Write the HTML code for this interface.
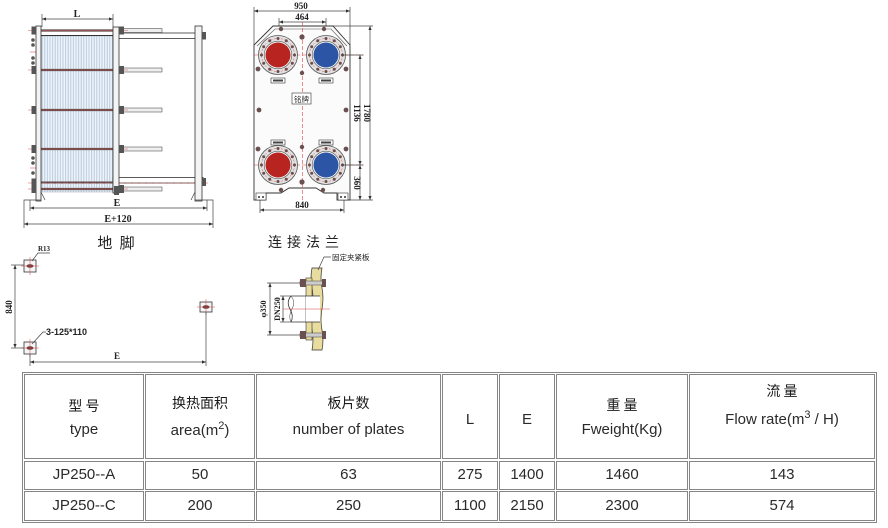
<!DOCTYPE html>
<html><head><meta charset="utf-8">
<style>
html,body{margin:0;padding:0;background:#fff;}
body{width:888px;height:528px;position:relative;overflow:hidden;font-family:"Liberation Sans","Noto Sans CJK SC",sans-serif;}
.b{position:absolute;border:1px solid #858585;box-sizing:border-box;}
.t{position:absolute;text-align:center;line-height:18px;font-size:15px;color:#2a2a2a;white-space:nowrap;}
.c{font-family:"Noto Sans CJK SC","WenQuanYi Zen Hei",sans-serif;font-size:14px;color:#1a1a1a;}
.s{font-size:11px;vertical-align:6px;line-height:0;}
</style></head><body>
<svg width="888" height="528" style="position:absolute;left:0;top:0" xmlns="http://www.w3.org/2000/svg">
<defs>
<marker id="a" viewBox="0 0 10 10" refX="10" refY="5" markerUnits="userSpaceOnUse" markerWidth="6" markerHeight="4" orient="auto-start-reverse"><path d="M0,1 L10,5 L0,9 z" fill="#333"/></marker>
<pattern id="pk" width="2.6" height="10" patternUnits="userSpaceOnUse"><rect width="2.6" height="10" fill="#eef3f9"/><line x1="0.6" y1="0" x2="0.6" y2="10" stroke="#b3c7dc" stroke-width="0.9"/></pattern>
<g id="fl">
<circle r="19.5" fill="#e2e2e2" stroke="#555" stroke-width=".8"/>
<circle r="16.5" fill="none" stroke="#d44" stroke-width=".5" stroke-dasharray="2 1.5"/>
<circle cx="16.5" cy="0" r="1.5" fill="#6b4b4b"/><circle cx="14.3" cy="8.25" r="1.5" fill="#6b4b4b"/><circle cx="8.25" cy="14.3" r="1.5" fill="#6b4b4b"/><circle cx="0" cy="16.5" r="1.5" fill="#6b4b4b"/><circle cx="-8.25" cy="14.3" r="1.5" fill="#6b4b4b"/><circle cx="-14.3" cy="8.25" r="1.5" fill="#6b4b4b"/><circle cx="-16.5" cy="0" r="1.5" fill="#6b4b4b"/><circle cx="-14.3" cy="-8.25" r="1.5" fill="#6b4b4b"/><circle cx="-8.25" cy="-14.3" r="1.5" fill="#6b4b4b"/><circle cx="0" cy="-16.5" r="1.5" fill="#6b4b4b"/><circle cx="8.25" cy="-14.3" r="1.5" fill="#6b4b4b"/><circle cx="14.3" cy="-8.25" r="1.5" fill="#6b4b4b"/>
<circle r="13.8" fill="#f4f4f4" stroke="#555" stroke-width=".6"/>
</g>
</defs>

<!-- ===== LEFT: frame side view ===== -->
<g stroke="#444" stroke-width=".7" fill="none">
<line x1="42" y1="14" x2="42" y2="27"/><line x1="113" y1="14" x2="113" y2="27"/>
<line x1="42" y1="19" x2="113" y2="19" marker-start="url(#a)" marker-end="url(#a)"/>
</g>
<text x="77" y="17" font-family="Liberation Serif" font-weight="bold" font-size="10" text-anchor="middle" fill="#222">L</text>

<rect x="41" y="36" width="72" height="156" fill="url(#pk)" stroke="#9ab" stroke-width=".5"/>
<!-- top guide bar -->
<line x1="41" y1="35.5" x2="113" y2="35.5" stroke="#333" stroke-width="1"/>
<rect x="113" y="33" width="90" height="5.5" fill="#fff" stroke="#333" stroke-width=".8"/>
<!-- lower guide bar -->
<rect x="113" y="177.5" width="90" height="5.5" fill="#fff" stroke="#333" stroke-width=".8"/>
<!-- bolts -->
<g>
<line x1="34" y1="30.5" x2="113" y2="30.5" stroke="#5a4a4a" stroke-width="2.2"/>
<rect x="119" y="28.5" width="43" height="4" fill="#eee" stroke="#555" stroke-width=".6"/>
<line x1="34" y1="70" x2="113" y2="70" stroke="#5a4a4a" stroke-width="2.2"/>
<rect x="119" y="68" width="43" height="4" fill="#eee" stroke="#555" stroke-width=".6"/>
<line x1="34" y1="110" x2="113" y2="110" stroke="#5a4a4a" stroke-width="2.2"/>
<rect x="119" y="108" width="43" height="4" fill="#eee" stroke="#555" stroke-width=".6"/>
<line x1="34" y1="149" x2="113" y2="149" stroke="#5a4a4a" stroke-width="2.2"/>
<rect x="119" y="147" width="43" height="4" fill="#eee" stroke="#555" stroke-width=".6"/>
<line x1="34" y1="182.5" x2="113" y2="182.5" stroke="#5a4a4a" stroke-width="2"/>
<line x1="34" y1="189" x2="113" y2="189" stroke="#5a4a4a" stroke-width="2.2"/>
<rect x="119" y="187" width="43" height="4" fill="#eee" stroke="#555" stroke-width=".6"/>
</g>
<g stroke="#d55" stroke-width=".6">
<line x1="28" y1="30.5" x2="128" y2="30.5"/><line x1="28" y1="70" x2="128" y2="70"/><line x1="28" y1="110" x2="128" y2="110"/><line x1="28" y1="149" x2="128" y2="149"/><line x1="28" y1="189" x2="128" y2="189"/>
<line x1="28" y1="183" x2="208" y2="183" stroke-dasharray="5 2"/>
<line x1="30" y1="52" x2="40" y2="52"/><line x1="30" y1="168" x2="40" y2="168"/>
</g>
<!-- plates -->
<rect x="36" y="26" width="5" height="175" fill="#f4f4f4" stroke="#333" stroke-width=".8"/>
<rect x="113" y="27" width="6" height="166" fill="#f4f4f4" stroke="#333" stroke-width=".8"/>
<rect x="195" y="26" width="7" height="175" fill="#f4f4f4" stroke="#333" stroke-width=".8"/>
<!-- nuts -->
<g fill="#555">
<rect x="31.5" y="26.5" width="4.5" height="8"/><rect x="31.5" y="66" width="4.5" height="8"/><rect x="31.5" y="106" width="4.5" height="8"/><rect x="31.5" y="145" width="4.5" height="8"/><rect x="31.5" y="178.5" width="4.5" height="8"/><rect x="31.5" y="185" width="4.5" height="8"/>
<rect x="119" y="26.5" width="5" height="8"/><rect x="119" y="66" width="5" height="8"/><rect x="119" y="106" width="5" height="8"/><rect x="119" y="145" width="5" height="8"/><rect x="119" y="185" width="5" height="8"/><rect x="114" y="186" width="5" height="9"/>
<rect x="202" y="32" width="4" height="7.5"/><rect x="202" y="178" width="4" height="8"/>
<circle cx="33" cy="40" r="1.8"/><circle cx="33" cy="45" r="1.8"/><circle cx="33" cy="58" r="1.8"/><circle cx="33" cy="63" r="1.8"/>
<circle cx="33" cy="158" r="1.8"/><circle cx="33" cy="163" r="1.8"/><circle cx="33" cy="173" r="1.8"/>
</g>
<!-- feet & dims -->
<g stroke="#444" stroke-width=".7" fill="none">
<path d="M24,228 V200 H41"/><path d="M213,228 V200 H195"/>
<path d="M41,192 L45,200"/><path d="M195,192 L191,200"/>
<line x1="30" y1="200" x2="30" y2="211"/><line x1="207" y1="200" x2="207" y2="211"/>
<line x1="30" y1="208" x2="207" y2="208" marker-start="url(#a)" marker-end="url(#a)"/>
<line x1="24" y1="224" x2="213" y2="224" marker-start="url(#a)" marker-end="url(#a)"/>
</g>
<g font-family="Liberation Serif" font-weight="bold" font-size="10" fill="#222" text-anchor="middle">
<text x="117" y="206">E</text>
<text x="118" y="222">E+120</text>
</g>
<text x="117" y="248" font-family="Noto Sans CJK SC" font-size="15" text-anchor="middle" fill="#222" letter-spacing="2">地 脚</text>

<!-- ===== MIDDLE: plate front view ===== -->
<g stroke="#444" stroke-width=".7" fill="none">
<line x1="254" y1="7" x2="254" y2="45"/><line x1="350" y1="7" x2="350" y2="45"/>
<line x1="254" y1="11" x2="350" y2="11" marker-start="url(#a)" marker-end="url(#a)"/>
<line x1="279" y1="18" x2="279" y2="36"/><line x1="326" y1="18" x2="326" y2="36"/>
<line x1="279" y1="22" x2="326" y2="22" marker-start="url(#a)" marker-end="url(#a)"/>
</g>
<g font-family="Liberation Serif" font-weight="bold" font-size="9" fill="#222" text-anchor="middle">
<text x="301" y="9">950</text>
<text x="302" y="20">464</text>
</g>
<path d="M254,45 L273,26 L333,26 L350,45 L350,200 L337,200 L337,193 L324,193 L316,188 L289,188 L281,193 L266,193 L266,200 L254,200 Z" fill="#fbfbfb" stroke="#333" stroke-width=".9"/>
<path d="M257,46 L275,29 L331,29 L347,46" fill="none" stroke="#555" stroke-width=".6"/>
<rect x="256" y="193" width="10" height="7" fill="#fff" stroke="#333" stroke-width=".6"/>
<rect x="338" y="193" width="10" height="7" fill="#fff" stroke="#333" stroke-width=".6"/>
<g fill="#333"><circle cx="259" cy="197" r="1"/><circle cx="263" cy="197" r="1"/><circle cx="341" cy="197" r="1"/><circle cx="345" cy="197" r="1"/></g>
<!-- centerlines -->
<g stroke="#d44" stroke-width=".6" stroke-dasharray="4 2" fill="none">
<line x1="302.5" y1="22" x2="302.5" y2="205"/>
<line x1="254" y1="55" x2="364" y2="55"/>
<line x1="254" y1="165" x2="364" y2="165"/>
</g>
<!-- plate bolts -->
<g fill="#6a5050">
<circle cx="302" cy="37" r="2.6"/><circle cx="281" cy="29" r="2.2"/><circle cx="324" cy="29" r="2.2"/>
<circle cx="258" cy="69" r="2.4"/><circle cx="346" cy="69" r="2.4"/>
<circle cx="259" cy="110" r="2.4"/><circle cx="346" cy="110" r="2.4"/>
<circle cx="258" cy="149" r="2.4"/><circle cx="346" cy="149" r="2.4"/>
<circle cx="302" cy="182" r="2.6"/><circle cx="281" cy="190" r="2.2"/><circle cx="323" cy="190" r="2.2"/>
<circle cx="302" cy="73" r="2.2"/><circle cx="302" cy="147" r="2.2"/>
</g>
<!-- ports -->
<use href="#fl" x="278" y="55"/><use href="#fl" x="326" y="55"/>
<use href="#fl" x="278" y="165"/><use href="#fl" x="326" y="165"/>
<circle cx="278" cy="55" r="12.5" fill="#b8241f"/>
<circle cx="326" cy="55" r="12.5" fill="#2c55a6"/>
<circle cx="278" cy="165" r="12.5" fill="#b8241f"/>
<circle cx="326" cy="165" r="12.5" fill="#2c55a6"/>
<g fill="#fff" stroke="#333" stroke-width=".6">
<rect x="271" y="78" width="14" height="5"/><rect x="319" y="78" width="14" height="5"/>
<rect x="271" y="140" width="14" height="5"/><rect x="319" y="140" width="14" height="5"/>
<rect x="292" y="93" width="19" height="11"/>
</g>
<g fill="#444"><rect x="273" y="79.5" width="10" height="2"/><rect x="321" y="79.5" width="10" height="2"/><rect x="273" y="141.5" width="10" height="2"/><rect x="321" y="141.5" width="10" height="2"/></g>
<text x="301.5" y="102" font-family="Noto Sans CJK SC" font-size="7.5" text-anchor="middle" fill="#333">铭牌</text>
<!-- right dims -->
<g stroke="#444" stroke-width=".7" fill="none">
<line x1="333" y1="26" x2="373" y2="26"/><line x1="350" y1="200" x2="373" y2="200"/>
<line x1="342" y1="55" x2="363" y2="55"/><line x1="342" y1="165" x2="363" y2="165"/>
<line x1="370" y1="26" x2="370" y2="200" marker-start="url(#a)" marker-end="url(#a)"/>
<line x1="360" y1="55" x2="360" y2="165" marker-start="url(#a)" marker-end="url(#a)"/>
<line x1="360" y1="165" x2="360" y2="200" marker-start="url(#a)" marker-end="url(#a)"/>
<line x1="260" y1="200" x2="260" y2="213"/><line x1="344" y1="200" x2="344" y2="213"/>
<line x1="260" y1="210" x2="344" y2="210" marker-start="url(#a)" marker-end="url(#a)"/>
</g>
<g font-family="Liberation Serif" font-weight="bold" font-size="9" fill="#222" text-anchor="middle">
<text transform="translate(364,113) rotate(90)">1780</text>
<text transform="translate(354,113) rotate(90)">1136</text>
<text transform="translate(354,183) rotate(90)">360</text>
<text x="302" y="208">840</text>
</g>
<text x="306" y="247" font-family="Noto Sans CJK SC" font-size="14" text-anchor="middle" fill="#222" letter-spacing="5">连接法兰</text>

<!-- ===== BOTTOM LEFT: foundation ===== -->
<g stroke="#333" stroke-width=".8" fill="#f6f6f6">
<rect x="24" y="260" width="12" height="12"/><rect x="24" y="342" width="12" height="12"/><rect x="200" y="302" width="12" height="10"/>
</g>
<g fill="#5a3a3a"><ellipse cx="30" cy="266" rx="3.5" ry="1.8"/><ellipse cx="30" cy="348" rx="3.5" ry="1.8"/><ellipse cx="206" cy="307" rx="3.5" ry="1.8"/></g>
<g stroke="#d44" stroke-width=".5">
<line x1="21" y1="266" x2="39" y2="266"/><line x1="30" y1="257" x2="30" y2="275"/>
<line x1="21" y1="348" x2="39" y2="348"/><line x1="30" y1="339" x2="30" y2="357"/>
<line x1="197" y1="307" x2="215" y2="307"/><line x1="206" y1="299" x2="206" y2="315"/>
</g>
<g stroke="#444" stroke-width=".7" fill="none">
<path d="M32,261 L38,253 H50"/>
<line x1="11" y1="265" x2="24" y2="265"/><line x1="11" y1="348" x2="24" y2="348"/>
<line x1="15" y1="265" x2="15" y2="348" marker-start="url(#a)" marker-end="url(#a)"/>
<path d="M32,344 L43,332 H46"/>
<line x1="30" y1="354" x2="30" y2="366"/><line x1="206" y1="312" x2="206" y2="366"/>
<line x1="30" y1="362" x2="206" y2="362" marker-start="url(#a)" marker-end="url(#a)"/>
</g>
<text x="38" y="251" font-family="Liberation Serif" font-weight="bold" font-size="7" fill="#222">R13</text>
<text transform="translate(12,307) rotate(-90)" font-family="Liberation Serif" font-weight="bold" font-size="9" fill="#222" text-anchor="middle">840</text>
<text x="46" y="335" font-family="Liberation Sans" font-weight="bold" font-size="9" fill="#222">3-125*110</text>
<text x="117" y="359" font-family="Liberation Serif" font-weight="bold" font-size="9" fill="#222" text-anchor="middle">E</text>

<!-- ===== BOTTOM MIDDLE: flange detail ===== -->
<path d="M312,268 Q310,278 312,288 Q314,298 312,309 Q310,320 312,330 Q314,340 312,350 L322,350 Q324,340 322,330 Q320,320 322,309 Q324,298 322,288 Q320,278 322,268 Z" fill="#e8dc9e" stroke="#333" stroke-width=".7"/>
<rect x="306" y="278" width="6" height="62" fill="#e8dc9e" stroke="#333" stroke-width=".6"/>
<rect x="306" y="296" width="14" height="26" fill="#fff" stroke="none"/>
<g stroke="#333" stroke-width=".8" fill="none">
<line x1="291" y1="296" x2="320" y2="296"/><line x1="291" y1="322" x2="320" y2="322"/>
<path d="M291,296 Q286,302 290,309 Q294,316 291,322"/>
<path d="M291,296 Q296,302 292,309 Q288,316 291,322" stroke-width=".5"/>
</g>
<g>
<rect x="300" y="281" width="24" height="4" fill="#ccc" stroke="#444" stroke-width=".5"/>
<rect x="300" y="333" width="24" height="4" fill="#ccc" stroke="#444" stroke-width=".5"/>
<rect x="300" y="279" width="6" height="8" fill="#6b5050"/><rect x="322" y="279" width="4" height="8" fill="#6b5050"/>
<rect x="300" y="331" width="6" height="8" fill="#6b5050"/><rect x="322" y="331" width="4" height="8" fill="#6b5050"/>
</g>
<line x1="283" y1="309" x2="330" y2="309" stroke="#d44" stroke-width=".6"/>
<g stroke="#444" stroke-width=".7" fill="none">
<line x1="267" y1="283" x2="300" y2="283"/><line x1="267" y1="335" x2="300" y2="335"/>
<line x1="270" y1="283" x2="270" y2="335" marker-start="url(#a)" marker-end="url(#a)"/>
<line x1="280" y1="296" x2="291" y2="296"/><line x1="280" y1="322" x2="291" y2="322"/>
<line x1="283" y1="296" x2="283" y2="322" marker-start="url(#a)" marker-end="url(#a)"/>
<path d="M318,270 L324,257 H331"/>
</g>
<g font-family="Liberation Serif" font-weight="bold" font-size="8" fill="#222" text-anchor="middle">
<text transform="translate(266,309) rotate(-90)">φ350</text>
<text transform="translate(280,309) rotate(-90)">DN250</text>
</g>
<text x="332" y="260" font-family="Noto Sans CJK SC" font-size="7.5" fill="#222">固定夹紧板</text>
</svg>

<!-- ===== TABLE ===== -->
<div class="b" style="left:22px;top:372px;width:855px;height:151px;"></div>
<div class="b" style="left:24px;top:374px;width:120px;height:85px;"></div>
<div class="b" style="left:145px;top:374px;width:110px;height:85px;"></div>
<div class="b" style="left:256px;top:374px;width:185px;height:85px;"></div>
<div class="b" style="left:442px;top:374px;width:56px;height:85px;"></div>
<div class="b" style="left:499px;top:374px;width:56px;height:85px;"></div>
<div class="b" style="left:556px;top:374px;width:132px;height:85px;"></div>
<div class="b" style="left:689px;top:374px;width:186px;height:85px;"></div>

<div class="b" style="left:24px;top:461px;width:120px;height:29px;"></div>
<div class="b" style="left:145px;top:461px;width:110px;height:29px;"></div>
<div class="b" style="left:256px;top:461px;width:185px;height:29px;"></div>
<div class="b" style="left:442px;top:461px;width:56px;height:29px;"></div>
<div class="b" style="left:499px;top:461px;width:56px;height:29px;"></div>
<div class="b" style="left:556px;top:461px;width:132px;height:29px;"></div>
<div class="b" style="left:689px;top:461px;width:186px;height:29px;"></div>

<div class="b" style="left:24px;top:491px;width:120px;height:30px;"></div>
<div class="b" style="left:145px;top:491px;width:110px;height:30px;"></div>
<div class="b" style="left:256px;top:491px;width:185px;height:30px;"></div>
<div class="b" style="left:442px;top:491px;width:56px;height:30px;"></div>
<div class="b" style="left:499px;top:491px;width:56px;height:30px;"></div>
<div class="b" style="left:556px;top:491px;width:132px;height:30px;"></div>
<div class="b" style="left:689px;top:491px;width:186px;height:30px;"></div>

<!-- header text -->
<div class="t c" style="left:24px;width:120px;top:397px;">型 号</div>
<div class="t" style="left:24px;width:120px;top:421px;">type</div>
<div class="t c" style="left:145px;width:110px;top:394px;">换热面积</div>
<div class="t" style="left:145px;width:110px;top:422px;">area(m<span class="s">2</span>)</div>
<div class="t c" style="left:256px;width:185px;top:394px;">板片数</div>
<div class="t" style="left:256px;width:185px;top:421px;">number of plates</div>
<div class="t" style="left:442px;width:56px;top:411px;">L</div>
<div class="t" style="left:499px;width:56px;top:411px;">E</div>
<div class="t c" style="left:556px;width:132px;top:396px;">重 量</div>
<div class="t" style="left:556px;width:132px;top:421px;">Fweight(Kg)</div>
<div class="t c" style="left:689px;width:186px;top:382px;">流 量</div>
<div class="t" style="left:689px;width:186px;top:411px;">Flow rate(m<span class="s">3</span> / H)</div>

<!-- row 1 -->
<div class="t" style="left:24px;width:120px;top:466px;">JP250--A</div>
<div class="t" style="left:145px;width:110px;top:466px;">50</div>
<div class="t" style="left:256px;width:185px;top:466px;">63</div>
<div class="t" style="left:442px;width:56px;top:466px;">275</div>
<div class="t" style="left:499px;width:56px;top:466px;">1400</div>
<div class="t" style="left:556px;width:132px;top:466px;">1460</div>
<div class="t" style="left:689px;width:186px;top:466px;">143</div>
<!-- row 2 -->
<div class="t" style="left:24px;width:120px;top:497px;">JP250--C</div>
<div class="t" style="left:145px;width:110px;top:497px;">200</div>
<div class="t" style="left:256px;width:185px;top:497px;">250</div>
<div class="t" style="left:442px;width:56px;top:497px;">1100</div>
<div class="t" style="left:499px;width:56px;top:497px;">2150</div>
<div class="t" style="left:556px;width:132px;top:497px;">2300</div>
<div class="t" style="left:689px;width:186px;top:497px;">574</div>
</body></html>
